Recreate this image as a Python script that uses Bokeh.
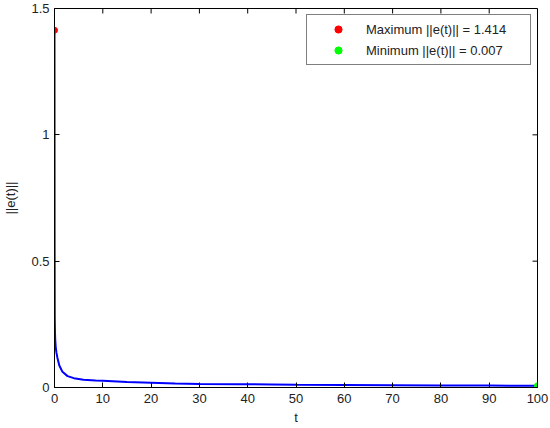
from bokeh.plotting import figure
from bokeh.models import Range1d, FixedTicker, Legend, LegendItem
from bokeh.embed import file_html
from bokeh.resources import INLINE

# Data
t = [0, 0.02, 0.05, 0.1, 0.15, 0.25, 0.4, 0.6, 1.0, 1.65, 2.7, 4, 6, 8.5,
     10, 15, 20, 25, 30, 38, 45, 50, 60, 70, 80, 90, 100]
e = [1.414, 0.60, 0.28, 0.22, 0.19, 0.16, 0.138, 0.118, 0.087, 0.062, 0.045,
     0.037, 0.031, 0.028, 0.027, 0.022, 0.019, 0.016, 0.014, 0.013, 0.012,
     0.011, 0.010, 0.009, 0.008, 0.0075, 0.007]
x_ticks = [0, 10, 20, 30, 40, 50, 60, 70, 80, 90, 100]
y_ticks = [0, 0.5, 1, 1.5]
x_lo, x_hi = 0, 100
y_lo, y_hi = 0, 1.5

max_val = max(e)
min_val = min(e)
t_max = t[e.index(max_val)]
t_min = t[e.index(min_val)]

FONT = "Liberation Sans"
FS = "13px"

W, H = 550, 428
BL, BR, BT, BB = 52, 13, 8, 41

p = figure(width=W, height=H, output_backend="svg", toolbar_location=None,
           x_range=Range1d(x_lo, x_hi), y_range=Range1d(y_lo, y_hi),
           min_border_left=BL, min_border_right=BR, min_border_top=BT,
           min_border_bottom=BB)
p.background_fill_color = "white"
p.border_fill_color = "white"
p.outline_line_color = "black"
p.outline_line_width = 1
p.xgrid.visible = False
p.ygrid.visible = False

for ax in (p.xaxis[0], p.yaxis[0]):
    ax.major_tick_in = 5
    ax.major_tick_out = 0
    ax.minor_tick_in = 0
    ax.minor_tick_out = 0
    ax.axis_line_color = "black"
    ax.major_tick_line_color = "black"
    ax.major_label_text_font = FONT
    ax.major_label_text_font_size = FS
    ax.major_label_text_color = "#222222"
    ax.axis_label_text_font = FONT
    ax.axis_label_text_font_size = FS
    ax.axis_label_text_font_style = "normal"
    ax.axis_label_text_color = "#222222"

p.xaxis[0].ticker = FixedTicker(ticks=x_ticks)
p.yaxis[0].ticker = FixedTicker(ticks=y_ticks)
p.xaxis[0].major_label_overrides = {v: str(v) for v in x_ticks}
p.yaxis[0].major_label_overrides = {0: "0", 0.5: "0.5", 1: "1", 1.5: "1.5"}
p.xaxis[0].axis_label = "t"
p.yaxis[0].axis_label = "||e(t)||"
p.xaxis[0].major_label_standoff = 6
p.yaxis[0].major_label_standoff = 5
p.xaxis[0].axis_label_standoff = 4
p.yaxis[0].axis_label_standoff = 10

# mirrored inward ticks on the top and right edges of the box
frame_w = W - BL - BR
frame_h = H - BT - BB
dy = 5.0 / frame_h * (y_hi - y_lo)
dx = 5.0 / frame_w * (x_hi - x_lo)
p.segment(x0=x_ticks, y0=[y_hi] * len(x_ticks), x1=x_ticks,
          y1=[y_hi - dy] * len(x_ticks), line_color="black", line_width=1)
p.segment(x0=[x_hi] * len(y_ticks), y0=y_ticks, x1=[x_hi - dx] * len(y_ticks),
          y1=y_ticks, line_color="black", line_width=1)

p.line(t, e, line_color="#0000ff", line_width=2)
r_max = p.scatter([t_max], [max_val], size=6, color="#ff0000", marker="circle")
r_min = p.scatter([t_min], [min_val], size=6, color="#00ff00", marker="circle")

legend = Legend(items=[
    LegendItem(label="Maximum ||e(t)|| = %.3f" % max_val, renderers=[r_max]),
    LegendItem(label="Minimum ||e(t)|| = %.3f" % min_val, renderers=[r_min]),
], location="top_right")
legend.label_text_font = FONT
legend.label_text_font_size = FS
legend.label_text_color = "#222222"
legend.border_line_color = "black"
legend.border_line_width = 1
legend.background_fill_color = "white"
legend.background_fill_alpha = 1
legend.padding = 5
legend.spacing = 3
legend.glyph_width = 52
legend.glyph_height = 18
legend.label_height = 18
legend.label_width = 159
legend.label_standoff = 2
legend.margin = 6
p.add_layout(legend)

open("out.html", "w").write(file_html(p, INLINE))
